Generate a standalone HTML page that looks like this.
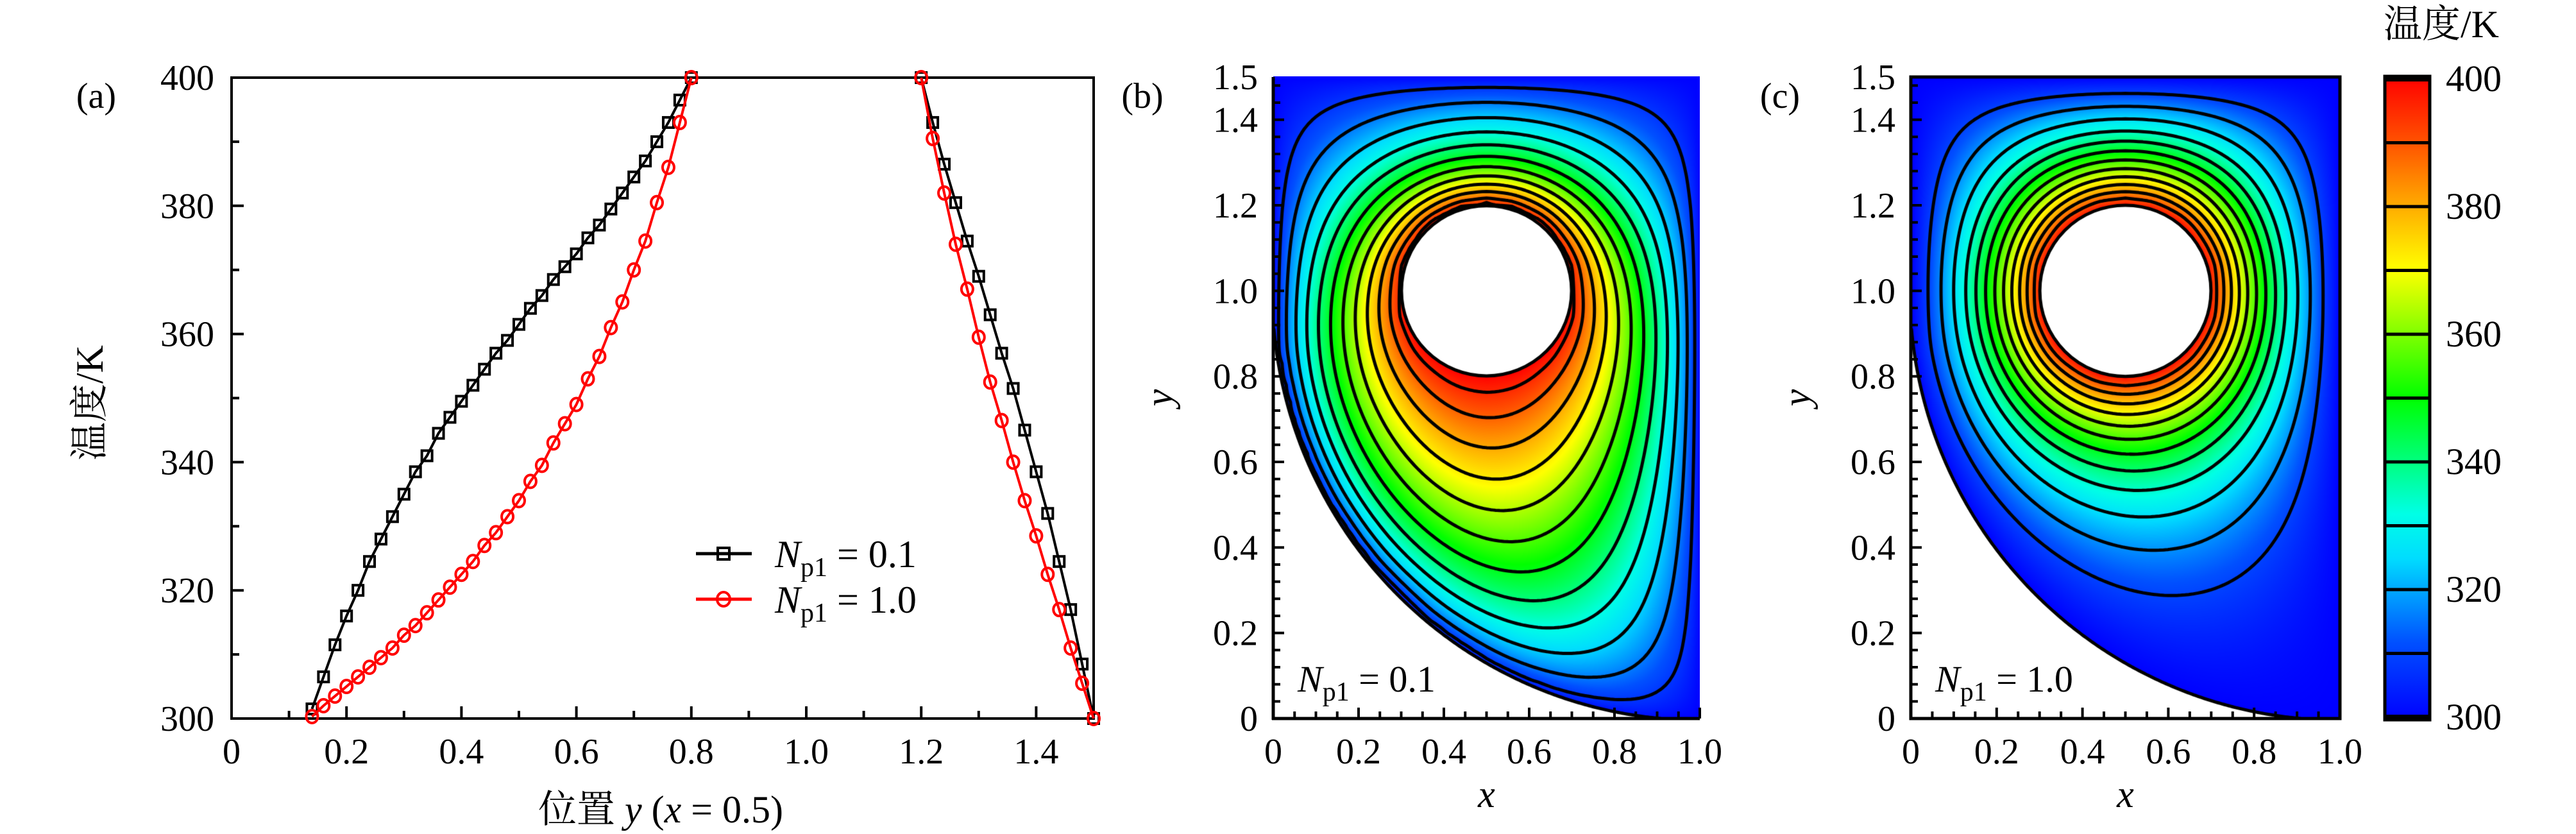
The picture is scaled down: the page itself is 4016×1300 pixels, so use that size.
<!DOCTYPE html>
<html><head><meta charset="utf-8">
<style>
html,body{margin:0;padding:0;background:#fff;width:4016px;height:1300px;overflow:hidden;}
#root{position:relative;width:4016px;height:1300px;}
canvas{position:absolute;}
svg{position:absolute;left:0;top:0;}
text{font-family:"Liberation Serif","Noto Serif CJK SC",serif;fill:#000;}
</style></head>
<body>
<div id="root">
<canvas id="cb" width="665" height="1002" style="left:1985px;top:119px"></canvas>
<canvas id="cc" width="669" height="1002" style="left:2979px;top:119px"></canvas>
<svg id="svg" width="4016" height="1300"></svg>
</div>
<script>
// ---- Panel (a) data ----
const yLeft = [0.14,0.16,0.18,0.20,0.22,0.24,0.26,0.28,0.30,0.32,0.34,0.36,0.38,0.40,0.42,0.44,0.46,0.48,0.50,0.52,0.54,0.56,0.58,0.60,0.62,0.64,0.66,0.68,0.70,0.72,0.74,0.76,0.78,0.80];
const tBlackLeft = [301.5,306.5,311.5,316,320,324.5,328,331.5,335,338.5,341,344.5,347,349.5,352,354.5,357,359,361.5,364,366,368.5,370.5,372.5,375,377,379.5,382,384.5,387,390,393,396.5,400];
const tRedLeft = [300.3,302,303.5,305,306.5,308,309.5,311,313,314.5,316.5,318.5,320.5,322.5,324.5,327,329,331.5,334,337,339.5,343,346,349,353,356.5,361,365,370,374.5,380.5,386,393,400];
const yRight = [1.20,1.22,1.24,1.26,1.28,1.30,1.32,1.34,1.36,1.38,1.40,1.42,1.44,1.46,1.48,1.50];
const tBlackRight = [400,393,386.5,380.5,374.5,369,363,357,351.5,345,338.5,332,324.5,317,308.5,300];
const tRedRight = [400,390.5,382,374,367,359.5,352.5,346.5,340,334,328.5,322.5,317,311,305.5,300];
const xTicksA = ["0","0.2","0.4","0.6","0.8","1.0","1.2","1.4"];
const xTickValsA = [0,0.2,0.4,0.6,0.8,1.0,1.2,1.4];
const yTickValsA = [300,320,340,360,380,400];
const xTickValsBC = [0,0.2,0.4,0.6,0.8,1.0];
const yTickValsBC = [0,0.2,0.4,0.6,0.8,1.0,1.2,1.4,1.5];
const cbTicks = [300,320,340,360,380,400];
const levelsB = [308,316,324,332,340,348,356,364,372,380,388,395];
const levelsC = [310,318,326,334,341,348,355,362,369,376,383,390];

const NS="http://www.w3.org/2000/svg";
const svg=document.getElementById('svg');
function mk(tag,attrs,parent){const e=document.createElementNS(NS,tag);for(const k in attrs)e.setAttribute(k,attrs[k]);(parent||svg).appendChild(e);return e;}

// Panel A axes
const A={L:361,R:1705,T:121,B:1120};
const ax=v=>A.L+v/1.5*(A.R-A.L);
const ay=t=>A.B-(t-300)/100*(A.B-A.T);
const gA=mk('g',{});


const frame=mk('rect',{x:A.L,y:A.T,width:A.R-A.L,height:A.B-A.T,fill:'none',stroke:'#000','stroke-width':4},gA);


for(let v=0;v<=1.5001;v+=0.1){const x=ax(v);const maj=Math.abs(v*5-Math.round(v*5))<1e-6;
 const t=mk('line',{x1:x,x2:x,y1:A.B,y2:A.B-(maj?19:12),stroke:'#000','stroke-width':4},gA);
 }
for(let t=300;t<=400;t+=10){const y=ay(t);const maj=t%20==0;
 const l=mk('line',{x1:A.L,x2:A.L+(maj?19:12),y1:y,y2:y,stroke:'#000','stroke-width':4},gA);
 }
xTickValsA.forEach((v,i)=>{const t=mk('text',{x:ax(v),y:1190,'font-size':56,'text-anchor':'middle'},gA);t.textContent=xTicksA[i];
 });
yTickValsA.forEach(v=>{const t=mk('text',{x:334,y:ay(v)+19,'font-size':56,'text-anchor':'end'},gA);t.textContent=String(v);
 });
function series(xs,ts,color,marker,name){
 const pts=xs.map((v,i)=>ax(v)+','+ay(ts[i])).join(' ');
 const pl=mk('polyline',{points:pts,fill:'none',stroke:color,'stroke-width':4},gA);
 
 xs.forEach((v,i)=>{let m;
  if(marker=='s') m=mk('rect',{x:ax(v)-8,y:ay(ts[i])-8,width:16,height:16,fill:'none',stroke:color,'stroke-width':4},gA);
  else m=mk('ellipse',{cx:ax(v),cy:ay(ts[i]),rx:9,ry:10,fill:'none',stroke:color,'stroke-width':4},gA);
  });
}
series(yLeft,tBlackLeft,'#000','s','np01-left');
series(yRight,tBlackRight,'#000','s','np01-right');
series(yLeft,tRedLeft,'#f00','o','np10-left');
series(yRight,tRedRight,'#f00','o','np10-right');
// legend
function legendEntry(y,color,marker,val,name){
 const g=mk('g',{},gA);
 mk('line',{x1:1085,x2:1172,y1:y,y2:y,stroke:color,'stroke-width':5},g);
 if(marker=='s') mk('rect',{x:1119,y:y-9,width:18,height:18,fill:'none',stroke:color,'stroke-width':4},g);
 else mk('ellipse',{cx:1128,cy:y,rx:10,ry:11,fill:'none',stroke:color,'stroke-width':4},g);
 const t=mk('text',{x:1208,y:y+21,'font-size':60},g);
 t.innerHTML='<tspan font-style="italic">N</tspan><tspan font-size="42" dy="14">p1</tspan><tspan dy="-14"> = '+val+'</tspan>';
}
legendEntry(863,'#000','s','0.1','legend-entry-np01');
legendEntry(934,'#f00','o','1.0','legend-entry-np10');
let t;
t=mk('text',{x:150,y:168,'font-size':56,'text-anchor':'middle'});t.textContent='(a)';

t=mk('text',{x:1030,y:1282,'font-size':60,'text-anchor':'middle'});
t.innerHTML='位置 <tspan font-style="italic">y</tspan> (<tspan font-style="italic">x</tspan> = 0.5)';

t=mk('text',{x:0,y:0,'font-size':60,'text-anchor':'middle',transform:'translate(160,628) rotate(-90)'});
t.textContent='温度/K';


// ---- colormap ----
const stops=[[0,0,0,255],[0.12,0,80,255],[0.25,0,220,255],[0.32,0,255,230],[0.4,0,255,128],[0.5,0,255,0],[0.6,128,255,0],[0.7,255,255,0],[0.8,255,170,0],[0.9,255,80,0],[1,255,0,0]];
function cmap(f){f=Math.max(0,Math.min(1,f));for(let i=1;i<stops.length;i++){if(f<=stops[i][0]){const a=stops[i-1],b=stops[i],u=(f-a[0])/(b[0]-a[0]);return [a[1]+u*(b[1]-a[1]),a[2]+u*(b[2]-a[2]),a[3]+u*(b[3]-a[3])];}}return [255,0,0];}

// ---- field solver ----
const NX=101,NY=151,H=0.01,RO=1.004;
function inDom(x,y){return !(x<1&&y<1&&((x-1)*(x-1)+(y-1)*(y-1)>RO*RO));}
function inHole(x,y){return (x-0.5)*(x-0.5)+(y-1)*(y-1)<0.04;}
function solve(pe,iters){
 const T=new Float32Array(NX*NY),fix=new Uint8Array(NX*NY);
 for(let j=0;j<NY;j++)for(let i=0;i<NX;i++){const x=i*H,y=j*H,k=j*NX+i;
  if(i==0||j==0||i==NX-1||j==NY-1||!inDom(x,y)){fix[k]=1;T[k]=0;}
  else if(inHole(x,y)){fix[k]=1;T[k]=1;}}
 const ph=pe*H,w=1.7;
 for(let it=0;it<iters;it++){for(let j=1;j<NY-1;j++)for(let i=1;i<NX-1;i++){const k=j*NX+i;if(fix[k])continue;
  const s=T[k-1]+T[k+1]+T[k-NX]+T[k+NX];const nv=(s+ph*T[k+NX])/(4+ph);T[k]+=w*(nv-T[k]);}}
 return T;
}
function renderPanel(id,field,map,levels){
 const cv=document.getElementById(id),ctx=cv.getContext('2d');const W=cv.width,Hh=cv.height;
 const sx=(W-2)/1.0, sy=(Hh-2)/1.5;
 const img=ctx.createImageData(W,Hh);
 const val=(x,y)=>{let fi=x/H,fj=y/H;fi=Math.max(0,Math.min(NX-1.001,fi));fj=Math.max(0,Math.min(NY-1.001,fj));
  const i=Math.floor(fi),j=Math.floor(fj),u=fi-i,v=fj-j;
  return (field[j*NX+i]*(1-u)+field[j*NX+i+1]*u)*(1-v)+(field[(j+1)*NX+i]*(1-u)+field[(j+1)*NX+i+1]*u)*v;};
 for(let py=0;py<Hh;py++)for(let px=0;px<W;px++){const x=(px-1)/sx,y=(Hh-1-py)/sy;const p=(py*W+px)*4;
  if(!inDom(x,y)||inHole(x,y)){img.data[p]=255;img.data[p+1]=255;img.data[p+2]=255;img.data[p+3]=255;continue;}
  const c=cmap((map(val(x,y))-300)/100);img.data[p]=c[0];img.data[p+1]=c[1];img.data[p+2]=c[2];img.data[p+3]=255;}
 ctx.putImageData(img,0,0);
 const X=x=>1+x*sx,Y=y=>Hh-1-y*sy;
 const Tm=new Float32Array(NX*NY);for(let k=0;k<NX*NY;k++)Tm[k]=map(field[k]);
 ctx.strokeStyle='#000';ctx.lineWidth=5;ctx.lineJoin='round';ctx.lineCap='round';
 levels.forEach(L=>{ctx.beginPath();
  for(let j=0;j<NY-1;j++)for(let i=0;i<NX-1;i++){
   const v=[Tm[j*NX+i],Tm[j*NX+i+1],Tm[(j+1)*NX+i+1],Tm[(j+1)*NX+i]];
   const P=[[i,j],[i+1,j],[i+1,j+1],[i,j+1]];const pts=[];
   for(let e=0;e<4;e++){const a=v[e],b=v[(e+1)%4];if((a<L)!=(b<L)){const u=(L-a)/(b-a);const pa=P[e],pb=P[(e+1)%4];
    pts.push([(pa[0]+u*(pb[0]-pa[0]))*H,(pa[1]+u*(pb[1]-pa[1]))*H]);}}
   for(let q=0;q+1<pts.length;q+=2){ctx.moveTo(X(pts[q][0]),Y(pts[q][1]));ctx.lineTo(X(pts[q+1][0]),Y(pts[q+1][1]));}
  }ctx.stroke();});
 ctx.lineWidth=5;ctx.beginPath();ctx.arc(X(0.5),Y(1),0.2*sx,0,Math.PI*2);ctx.stroke();
 ctx.beginPath();let first=true;
 for(let a=Math.PI;a<=1.5*Math.PI+1e-9;a+=0.005){const x=1+RO*Math.cos(a),y=1+RO*Math.sin(a);if(x<0||y<0)continue;
  if(first){ctx.moveTo(X(x),Y(y));first=false;}else ctx.lineTo(X(x),Y(y));}ctx.stroke();
}
const fB=solve(5,1400), fC=solve(0,1400);
renderPanel('cb',fB,p=>300+100*Math.pow(Math.max(0,p),0.7),levelsB);
renderPanel('cc',fC,p=>300+100*Math.pow(Math.max(0,p),1.0),levelsC);

// ---- axes for B and C ----
function panelAxes(L,R,label,name,npText,fullFrame){
 const T=120,B=1120;const g=mk('g',{});
 const X=v=>L+v*(R-L),Y=v=>B-v/1.5*(B-T);
 if(fullFrame) mk('rect',{x:L,y:T,width:R-L,height:B-T,fill:'none',stroke:'#000','stroke-width':5},g);
 else{mk('line',{x1:L,x2:L,y1:T,y2:B+2,stroke:'#000','stroke-width':5},g);mk('line',{x1:L-2,x2:R,y1:B,y2:B,stroke:'#000','stroke-width':5},g);}
 for(let v=0;v<=1.0001;v+=0.05){const maj=Math.abs(v*5-Math.round(v*5))<1e-6;
  const l=mk('line',{x1:X(v),x2:X(v),y1:B,y2:B-(maj?17:11),stroke:'#000','stroke-width':4},g);
  }
 for(let v=0;v<=1.5001;v+=0.04){const maj=Math.abs(v*5-Math.round(v*5))<1e-6;
  const l=mk('line',{x1:L,x2:L+(maj?17:11),y1:Y(v),y2:Y(v),stroke:'#000','stroke-width':4},g);
  }
 xTickValsBC.forEach(v=>{const t=mk('text',{x:X(v),y:1190,'font-size':56,'text-anchor':'middle'},g);t.textContent=v==0?'0':v.toFixed(1);
  });
 yTickValsBC.forEach(v=>{const t=mk('text',{x:L-24,y:Y(v)+19,'font-size':56,'text-anchor':'end'},g);t.textContent=v==0?'0':v.toFixed(1);
  });
 let t=mk('text',{x:L-204,y:168,'font-size':56,'text-anchor':'middle'},g);t.textContent=label;
 
 t=mk('text',{x:(L+R)/2,y:1258,'font-size':60,'font-style':'italic','text-anchor':'middle'},g);t.textContent='x';
 
 t=mk('text',{x:0,y:0,'font-size':60,'font-style':'italic','text-anchor':'middle',transform:'translate('+(L-158)+',620) rotate(-90)'},g);t.textContent='y';
 
 t=mk('text',{x:L+38,y:1078,'font-size':58},g);
 t.innerHTML='<tspan font-style="italic">N</tspan><tspan font-size="42" dy="14">p1</tspan><tspan dy="-14"> = '+npText+'</tspan>';
 
}
panelAxes(1985,2650,'(b)','panel-b','0.1',false);
panelAxes(2979,3648,'(c)','panel-c','1.0',true);

// ---- colorbar ----
const CB={L:3718,R:3788,T:119,B:1122};
const gC=mk('g',{});
const defs=mk('defs',{},svg);const lg=mk('linearGradient',{id:'jet',x1:0,y1:1,x2:0,y2:0},defs);
stops.forEach(s=>mk('stop',{offset:s[0],'stop-color':'rgb('+s[1]+','+s[2]+','+s[3]+')'},lg));
mk('rect',{x:CB.L,y:CB.T,width:CB.R-CB.L,height:CB.B-CB.T,fill:'url(#jet)',stroke:'#000','stroke-width':5},gC);
mk('rect',{x:CB.L,y:CB.T,width:CB.R-CB.L,height:8,fill:'#000'},gC);
mk('rect',{x:CB.L,y:CB.B-8,width:CB.R-CB.L,height:8,fill:'#000'},gC);
const cy=v=>CB.B-4-(v-300)/100*(CB.B-CB.T-8);
for(let v=310;v<400;v+=10){const l=mk('line',{x1:CB.L,x2:CB.R,y1:cy(v),y2:cy(v),stroke:'#000','stroke-width':5},gC);
 }
cbTicks.forEach(v=>{const t=mk('text',{x:3813,y:cy(v)+19,'font-size':58},gC);t.textContent=String(v);
 });
t=mk('text',{x:3806,y:58,'font-size':60,'text-anchor':'middle'},gC);t.textContent='温度/K';

</script>
</body></html>
